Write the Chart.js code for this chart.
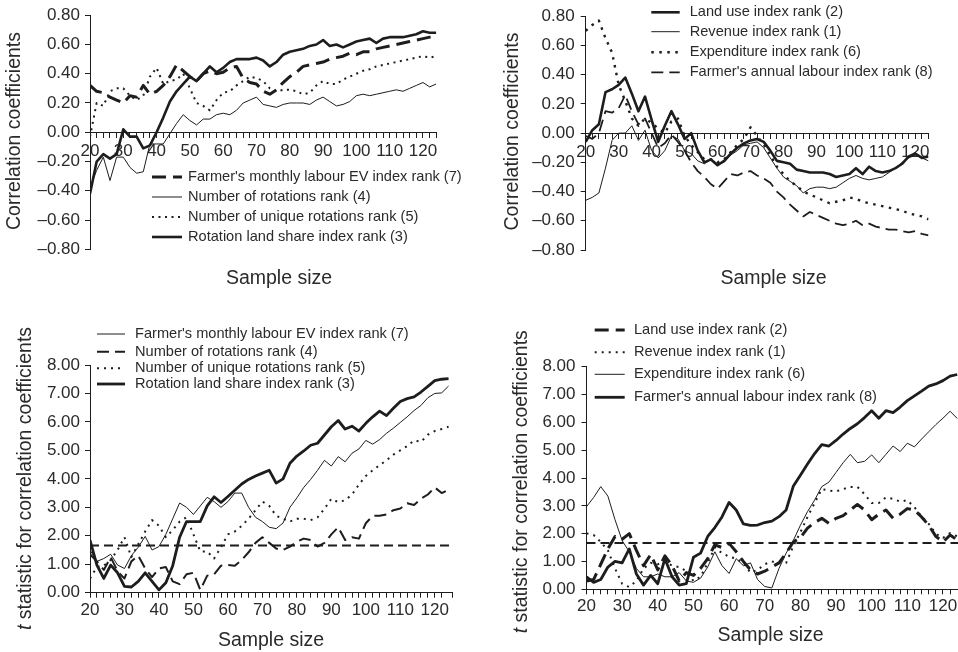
<!DOCTYPE html>
<html>
<head>
<meta charset="utf-8">
<script src="https://cdn.jsdelivr.net/npm/chart.js@4.4.1/dist/chart.umd.min.js"></script>
<style>
  html, body { margin: 0; padding: 0; background: #fff; width: 958px; height: 652px; overflow: hidden; }
  canvas { position: absolute; }
</style>
</head>
<body>
<canvas id="corrLeft"  width="479" height="300" style="left:0;top:0;width:479px;height:300px"></canvas>
<canvas id="corrRight" width="479" height="300" style="left:479px;top:0;width:479px;height:300px"></canvas>
<canvas id="tLeft"     width="479" height="352" style="left:0;top:300px;width:479px;height:352px"></canvas>
<canvas id="tRight"    width="490" height="352" style="left:479px;top:300px;width:490px;height:352px"></canvas>
<script>
// Sample sizes shared by every series
const sampleSizes = [20,22,24,26,28,30,32,34,36,38,40,42,44,46,48,50,52,54,56,58,60,62,64,66,68,70,72,74,76,78,80,82,84,86,88,90,92,94,96,98,100,102,104,106,108,110,112,114,116,118,120,122,124];

// Correlation coefficients, rotation indices
const monthlyLabourEvCorr = [
  0.32,0.28,0.27,0.24,0.22,0.20,0.25,0.24,0.32,0.26,
  0.28,0.32,0.38,0.46,0.42,0.38,0.35,0.40,0.42,0.40,
  0.41,0.44,0.45,0.37,0.34,0.33,0.28,0.26,0.29,0.34,
  0.38,0.41,0.45,0.46,0.47,0.48,0.50,0.51,0.52,0.54,
  0.53,0.55,0.55,0.57,0.58,0.59,0.60,0.61,0.62,0.63,
  0.64,0.65,0.66];
const rotationsCorr = [
  -0.38,-0.26,-0.17,-0.33,-0.17,-0.17,-0.24,-0.28,-0.27,-0.08,
  -0.08,-0.08,-0.01,0.06,0.12,0.08,0.05,0.09,0.09,0.12,
  0.13,0.12,0.15,0.20,0.22,0.24,0.19,0.18,0.17,0.19,
  0.20,0.20,0.20,0.19,0.22,0.24,0.21,0.18,0.19,0.21,
  0.25,0.26,0.25,0.26,0.27,0.28,0.29,0.28,0.30,0.32,
  0.34,0.31,0.33];
const uniqueRotationsCorr = [
  -0.03,0.20,0.18,0.28,0.30,0.30,0.25,0.22,0.25,0.38,
  0.44,0.33,0.35,0.36,0.40,0.30,0.20,0.18,0.15,0.22,
  0.27,0.28,0.32,0.35,0.38,0.37,0.35,0.30,0.28,0.29,
  0.29,0.28,0.26,0.27,0.32,0.35,0.33,0.33,0.36,0.38,
  0.40,0.42,0.43,0.45,0.46,0.47,0.48,0.49,0.50,0.51,
  0.52,0.51,0.52];
const landShareCorr = [
  -0.42,-0.20,-0.15,-0.18,-0.15,0.02,-0.03,-0.03,-0.11,-0.09,
  0.00,0.10,0.21,0.28,0.33,0.38,0.35,0.40,0.45,0.41,
  0.44,0.48,0.50,0.50,0.50,0.51,0.49,0.45,0.48,0.53,
  0.55,0.56,0.57,0.59,0.60,0.63,0.59,0.60,0.58,0.60,
  0.62,0.63,0.64,0.61,0.64,0.65,0.65,0.65,0.66,0.67,
  0.69,0.68,0.68];

// Correlation coefficients, economic indices
const landUseCorr = [
  -0.06,0.02,0.06,0.28,0.30,0.33,0.38,0.27,0.15,0.25,
  0.09,-0.06,0.05,0.15,0.06,-0.04,0.00,-0.12,-0.20,-0.18,
  -0.22,-0.19,-0.14,-0.10,-0.07,-0.05,-0.04,-0.06,-0.12,-0.19,
  -0.20,-0.21,-0.25,-0.26,-0.27,-0.27,-0.27,-0.28,-0.30,-0.29,
  -0.28,-0.24,-0.28,-0.23,-0.26,-0.27,-0.26,-0.24,-0.21,-0.16,
  -0.14,-0.17,-0.16];
const revenueCorr = [
  -0.46,-0.44,-0.41,-0.24,-0.05,0.00,0.00,0.05,-0.05,0.02,
  -0.12,-0.17,-0.12,-0.02,-0.04,-0.12,-0.14,-0.19,-0.21,-0.18,
  -0.21,-0.20,-0.15,-0.12,-0.08,-0.07,-0.06,-0.10,-0.17,-0.24,
  -0.30,-0.33,-0.36,-0.41,-0.38,-0.37,-0.37,-0.38,-0.37,-0.34,
  -0.31,-0.29,-0.31,-0.32,-0.31,-0.30,-0.27,-0.24,-0.20,-0.17,
  -0.15,-0.17,-0.19];
const expenditureCorr = [
  0.70,0.74,0.77,0.65,0.55,0.33,0.22,0.10,0.05,0.10,
  0.07,0.03,0.00,0.08,0.10,-0.02,-0.08,-0.13,-0.18,-0.18,
  -0.20,-0.18,-0.13,-0.08,-0.04,0.04,-0.02,-0.08,-0.15,-0.23,
  -0.28,-0.33,-0.36,-0.40,-0.42,-0.44,-0.46,-0.48,-0.47,-0.46,
  -0.44,-0.45,-0.47,-0.48,-0.49,-0.50,-0.51,-0.52,-0.53,-0.55,
  -0.56,-0.57,-0.59];
const annualLabourCorr = [
  -0.02,-0.04,0.00,0.15,0.14,0.17,0.26,0.15,0.06,0.10,
  0.00,-0.10,-0.07,-0.01,-0.06,-0.12,-0.20,-0.26,-0.30,-0.35,
  -0.38,-0.33,-0.28,-0.29,-0.27,-0.26,-0.29,-0.31,-0.34,-0.40,
  -0.44,-0.49,-0.53,-0.57,-0.54,-0.56,-0.58,-0.60,-0.62,-0.63,
  -0.62,-0.60,-0.63,-0.62,-0.64,-0.65,-0.66,-0.66,-0.67,-0.68,
  -0.67,-0.69,-0.70];

// t statistics, rotation indices
const monthlyLabourEvT = [
  1.50,1.10,1.20,1.35,0.97,0.85,1.30,1.60,1.98,1.50,
  1.62,2.05,2.60,3.15,3.00,2.75,3.05,3.35,3.20,3.00,
  3.20,3.50,3.50,3.00,2.65,2.50,2.30,2.25,2.45,3.00,
  3.33,3.70,3.98,4.30,4.65,4.45,4.78,4.60,4.90,5.05,
  5.35,5.22,5.38,5.60,5.78,5.98,6.18,6.40,6.58,6.85,
  7.00,7.02,7.26];
const rotationsT = [
  1.35,1.10,0.80,1.25,0.75,0.50,1.10,1.30,0.85,0.55,
  0.85,0.90,0.40,0.30,0.65,0.70,0.10,0.60,0.65,0.95,
  0.97,0.95,1.15,1.42,1.75,1.95,1.75,1.55,1.50,1.62,
  1.79,1.90,1.85,1.62,1.75,2.05,2.30,1.85,1.95,1.90,
  2.44,2.70,2.70,2.75,2.90,2.96,3.14,3.08,3.30,3.45,
  3.70,3.50,3.62];
const uniqueRotationsT = [
  0.50,0.90,0.95,1.15,1.50,1.95,1.25,1.70,2.15,2.55,
  2.35,1.95,2.20,2.50,2.65,2.05,1.45,1.45,1.20,1.60,
  2.05,2.15,2.35,2.60,2.90,3.20,3.05,2.70,2.60,2.50,
  2.60,2.60,2.55,2.65,2.95,3.30,3.18,3.25,3.45,3.80,
  4.10,4.30,4.48,4.65,4.85,5.00,5.15,5.35,5.30,5.55,
  5.68,5.75,5.83];
const landShareT = [
  1.85,0.97,0.50,0.97,0.70,0.22,0.20,0.40,0.70,0.40,
  0.10,0.35,0.95,1.95,2.50,2.50,2.50,3.05,3.37,3.17,
  3.38,3.60,3.82,3.98,4.10,4.20,4.30,3.85,4.00,4.55,
  4.80,4.98,5.18,5.25,5.54,5.83,6.05,5.75,5.85,5.68,
  5.95,6.18,6.38,6.22,6.48,6.72,6.82,6.88,7.05,7.25,
  7.45,7.50,7.52];

// t statistics, economic indices
const landUseT = [
  0.30,0.35,0.90,1.45,1.90,1.80,2.00,1.40,0.85,1.25,
  0.70,1.20,0.85,0.30,0.60,0.50,0.75,1.10,1.60,1.50,
  1.65,1.35,1.00,0.70,0.55,0.65,0.80,0.95,1.30,1.70,
  1.85,2.20,2.40,2.55,2.37,2.55,2.65,2.85,3.05,2.85,
  2.50,2.70,2.85,2.55,2.70,2.90,2.85,2.60,2.30,1.90,
  1.70,1.95,1.77];
const revenueT = [
  2.01,1.95,1.70,1.40,0.75,0.20,0.08,0.30,0.75,0.95,
  0.90,1.00,0.85,0.80,0.65,0.30,0.45,0.95,1.50,1.30,
  1.17,1.10,0.95,0.60,0.70,0.90,1.00,0.95,0.95,1.55,
  2.05,2.60,3.10,3.60,3.55,3.52,3.60,3.68,3.68,3.42,
  3.10,3.10,3.30,3.25,3.15,3.20,2.95,2.62,2.35,2.00,
  1.85,2.02,1.90];
const expenditureT = [
  2.97,3.30,3.69,3.35,2.50,1.75,1.35,0.75,0.45,0.45,
  0.55,0.45,0.45,0.60,0.30,0.25,0.40,0.80,1.35,0.85,
  0.57,1.10,0.85,0.95,0.35,0.10,0.05,0.75,1.30,1.75,
  2.30,2.79,3.21,3.69,3.85,4.20,4.55,4.85,4.55,4.60,
  4.83,4.55,4.85,5.15,4.95,5.25,5.12,5.40,5.66,5.92,
  6.15,6.40,6.14];
const annualLabourT = [
  0.45,0.25,0.35,0.80,1.00,0.95,1.45,0.55,0.15,0.50,
  0.20,1.10,0.45,0.15,0.20,1.15,1.30,1.90,2.22,2.60,
  3.12,2.85,2.35,2.30,2.31,2.40,2.45,2.61,2.85,3.70,
  4.10,4.50,4.88,5.20,5.15,5.35,5.58,5.78,5.95,6.17,
  6.42,6.15,6.42,6.35,6.55,6.78,6.95,7.12,7.30,7.38,
  7.50,7.66,7.72];

// One-tailed critical value of t
const tCritical = 1.66;

const INK = '#1d1d1d';
const TEXT = '#2a2a2a';
const FONT = "'Liberation Sans', Arial, Helvetica, sans-serif";
Chart.defaults.font.family = FONT;
Chart.defaults.color = TEXT;

function series(label, values, width, dash) {
  return {
    label,
    data: values.map((v, i) => ({ x: sampleSizes[i], y: v })),
    borderColor: INK,
    borderWidth: width,
    borderDash: dash || [],
    borderJoinStyle: 'round',
    borderCapStyle: 'butt',
    pointRadius: 0,
    tension: 0,
    fill: false
  };
}

function criticalLine(xMax) {
  return {
    label: 'critical t',
    keyHidden: true,
    data: [{ x: 20, y: tCritical }, { x: xMax, y: tCritical }],
    borderColor: INK, borderWidth: 2, borderDash: [9, 5],
    pointRadius: 0, tension: 0, fill: false
  };
}

// Line-sample key drawn from the datasets' own stroke styles
function keyPlugin(k) {
  return {
    id: 'seriesKey',
    afterDatasetsDraw(chart) {
      const ctx = chart.ctx;
      const shown = chart.data.datasets.filter(d => !d.keyHidden);
      ctx.save();
      ctx.font = `${k.size}px ${FONT}`;
      ctx.textBaseline = 'middle';
      ctx.textAlign = 'left';
      shown.forEach((d, i) => {
        const y = k.rows[i];
        ctx.beginPath();
        ctx.setLineDash(d.borderDash || []);
        ctx.lineWidth = d.borderWidth;
        ctx.strokeStyle = d.borderColor;
        ctx.lineCap = 'butt';
        ctx.moveTo(k.x0, y);
        ctx.lineTo(k.x1, y);
        ctx.stroke();
        ctx.setLineDash([]);
        ctx.fillStyle = TEXT;
        ctx.fillText(d.label, k.textX, y);
      });
      ctx.restore();
    }
  };
}

// Axis captions (runs allow an italic symbol inside the caption)
function captionPlugin(items) {
  return {
    id: 'captions',
    afterDraw(chart) {
      const ctx = chart.ctx;
      for (const c of items) {
        ctx.save();
        ctx.translate(c.x, c.y);
        if (c.vertical) ctx.rotate(-Math.PI / 2);
        ctx.fillStyle = TEXT;
        ctx.textBaseline = 'middle';
        ctx.textAlign = 'left';
        const runs = c.runs.map(r => {
          const font = `${r.italic ? 'italic ' : ''}19.5px ${FONT}`;
          ctx.font = font;
          return { text: r.text, font, w: ctx.measureText(r.text).width };
        });
        let x = -runs.reduce((s, r) => s + r.w, 0) / 2;
        for (const r of runs) {
          ctx.font = r.font;
          ctx.fillText(r.text, x, 0);
          x += r.w;
        }
        ctx.restore();
      }
    }
  };
}

const fmt2 = v => {
  if (Math.abs(v) < 1e-9) return '0.00';
  return (v < 0 ? '\u2013' : '') + Math.abs(v).toFixed(2);
};

// Bottom axes keep a fixed band for their labels (labels are clipped to the axis box)
const BOTTOM_AXIS_HEIGHT = 40;

function panel(id, p) {
  const el = document.getElementById(id);
  const W = el.width, H = el.height, a = p.area;
  const xHeight = p.xAtZero ? 0 : BOTTOM_AXIS_HEIGHT;
  return new Chart(el, {
    type: 'line',
    data: { datasets: p.datasets },
    options: {
      responsive: false,
      animation: false,
      devicePixelRatio: 1,
      events: [],
      layout: { padding: { left: 0, top: a.top, right: W - a.right, bottom: H - a.bottom - xHeight } },
      plugins: { legend: { display: false }, tooltip: { enabled: false } },
      scales: {
        x: {
          type: 'linear',
          min: 20,
          max: p.xMax,
          position: p.xAtZero ? { y: 0 } : 'bottom',
          afterFit: s => { s.height = xHeight; },
          border: { color: INK, width: 1 },
          grid: { drawOnChartArea: false, drawTicks: true, tickLength: 5, tickColor: INK, tickWidth: 1 },
          ticks: {
            stepSize: 2, autoSkip: false, maxRotation: 0, minRotation: 0,
            padding: p.xPad, font: { size: 17 }, color: TEXT,
            callback: v => (v % 10 === 0 ? String(v) : '')
          }
        },
        y: {
          type: 'linear',
          min: p.yMin,
          max: p.yMax,
          afterFit: s => { s.width = a.left; },
          border: { color: INK, width: 1 },
          grid: { drawOnChartArea: false, drawTicks: true, tickLength: 5, tickColor: INK, tickWidth: 1 },
          ticks: { stepSize: p.yStep, padding: p.yPad, font: { size: 17 }, color: TEXT, callback: fmt2 }
        }
      }
    },
    plugins: [keyPlugin(p.key), captionPlugin(p.captions)]
  });
}

// Correlation coefficients: rotation-based indices
panel('corrLeft', {
  area: { left: 90, top: 12, right: 436.3, bottom: 249.3 },
  xMax: 124, xAtZero: true, xPad: 4,
  yMin: -0.8, yMax: 0.8, yStep: 0.2, yPad: 5,
  datasets: [
    series("Farmer's monthly labour EV index rank (7)", monthlyLabourEvCorr, 3, [14, 7]),
    series('Number of rotations rank (4)', rotationsCorr, 1),
    series('Number of unique rotations rank (5)', uniqueRotationsCorr, 2, [2, 4.5]),
    series('Rotation land share index rank (3)', landShareCorr, 2.6)
  ],
  key: { x0: 152, x1: 182, textX: 188, rows: [177, 197, 217, 237], size: 14.6 },
  captions: [
    { x: 14.5, y: 131, vertical: true, runs: [{ text: 'Correlation coefficients' }] },
    { x: 279, y: 279, runs: [{ text: 'Sample size' }] }
  ]
});

// Correlation coefficients: economic indices
panel('corrRight', {
  area: { left: 106.7, top: 12.7, right: 449.5, bottom: 250 },
  xMax: 124, xAtZero: true, xPad: 4,
  yMin: -0.8, yMax: 0.8, yStep: 0.2, yPad: 6,
  datasets: [
    series('Land use index rank (2)', landUseCorr, 2.6),
    series('Revenue index rank (1)', revenueCorr, 1),
    series('Expenditure index rank (6)', expenditureCorr, 2.4, [2.5, 5.5]),
    series("Farmer's annual labour index rank (8)", annualLabourCorr, 1.8, [12, 6])
  ],
  key: { x0: 172.3, x1: 200.7, textX: 210.7, rows: [12.3, 31.7, 52.3, 72.3], size: 14.6 },
  captions: [
    { x: 33.2, y: 131.5, vertical: true, runs: [{ text: 'Correlation coefficients' }] },
    { x: 294.5, y: 279, runs: [{ text: 'Sample size' }] }
  ]
});

// t statistics: rotation-based indices
panel('tLeft', {
  area: { left: 90, top: 65, right: 452, bottom: 292.7 },
  xMax: 125, xAtZero: false, xPad: 2,
  yMin: 0, yMax: 8, yStep: 1, yPad: 5,
  datasets: [
    series("Farmer's monthly labour EV index rank (7)", monthlyLabourEvT, 1),
    series('Number of rotations rank (4)', rotationsT, 2, [12, 6]),
    series('Number of unique rotations rank (5)', uniqueRotationsT, 2, [2, 5]),
    series('Rotation land share index rank (3)', landShareT, 2.8),
    criticalLine(125)
  ],
  key: { x0: 97, x1: 125, textX: 135, rows: [34, 51.7, 68.3, 84], size: 14.6 },
  captions: [
    { x: 26, y: 178.5, vertical: true, runs: [{ text: 't', italic: true }, { text: ' statistic for correlation coefficients' }] },
    { x: 271, y: 340.5, runs: [{ text: 'Sample size' }] }
  ]
});

// t statistics: economic indices
panel('tRight', {
  area: { left: 107.5, top: 66.7, right: 481.8, bottom: 289.3 },
  xMax: 125, xAtZero: false, xPad: 2,
  yMin: 0, yMax: 8, yStep: 1, yPad: 6,
  datasets: [
    series('Land use index rank (2)', landUseT, 3, [14, 7]),
    series('Revenue index rank (1)', revenueT, 2, [2, 5]),
    series('Expenditure index rank (6)', expenditureT, 1),
    series("Farmer's annual labour index rank (8)", annualLabourT, 2.8),
    criticalLine(125)
  ],
  key: { x0: 115.7, x1: 145.7, textX: 155, rows: [30, 52.3, 74.3, 97.3], size: 14.6 },
  captions: [
    { x: 42.3, y: 181.7, vertical: true, runs: [{ text: 't', italic: true }, { text: ' statistic for correlation coefficients' }] },
    { x: 291.5, y: 335.7, runs: [{ text: 'Sample size' }] }
  ]
});
</script>
</body>
</html>
